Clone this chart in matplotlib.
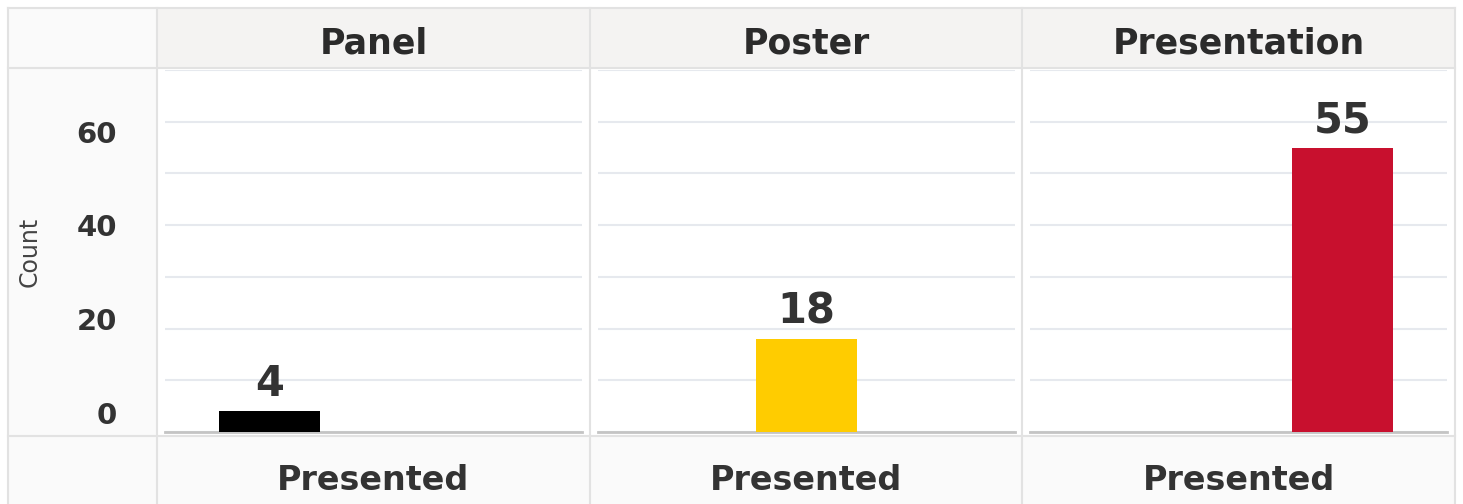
import matplotlib
matplotlib.use("Agg")
import matplotlib.pyplot as plt
from matplotlib.patches import Rectangle

# data
categories = ["Panel", "Poster", "Presentation"]
counts = [4, 18, 55]
colors = ["#000000", "#FFCC00", "#C8102E"]
row_label = "Presented"
y_ticks = [0, 20, 40, 60]

W, H = 1463, 504
fig = plt.figure(figsize=(W / 100, H / 100), dpi=100)

# background grid of cells, in pixel coords
bg = fig.add_axes([0, 0, 1, 1])
bg.set_xlim(0, W)
bg.set_ylim(H, 0)
bg.axis("off")

left, top, right = 8, 8, 1455
col_x = [157, 590, 1022, 1455]
head_bottom, strip_top = 68, 436
border = "#e2e2e2"

bg.add_patch(Rectangle((left, top), col_x[0] - left, H - top, color="#fafafa", lw=0))
bg.add_patch(Rectangle((col_x[0], top), right - col_x[0], head_bottom - top, color="#f4f3f2", lw=0))
bg.add_patch(Rectangle((col_x[0], strip_top), right - col_x[0], H - strip_top, color="#fafafa", lw=0))
for x in [left] + col_x:
    bg.plot([x, x], [top, H], color=border, lw=1.5)
for y in [top, head_bottom, strip_top]:
    bg.plot([left, right], [y, y], color=border, lw=1.5)

for i, cat in enumerate(categories):
    cx = (col_x[i] + col_x[i + 1]) / 2
    bg.text(cx, 54, cat, ha="center", va="baseline", fontsize=25,
            fontweight="bold", color="#2b2b2b", family="DejaVu Sans")
    bg.text(cx, 490, row_label, ha="center", va="baseline", fontsize=24,
            fontweight="bold", color="#333333", family="DejaVu Sans")

bg.text(30, 252, "Count", rotation=90, ha="center", va="center",
        fontsize=17, color="#444444", family="DejaVu Sans")

# facet panels
x_pos = list(range(len(categories)))
for i, cat in enumerate(categories):
    x0 = col_x[i] + 8
    ax = fig.add_axes([x0 / W, (H - 432) / H, 417 / W, 362 / H])
    ax.patch.set_alpha(0)
    ax.bar(x_pos[i], counts[i], width=0.97, color=colors[i], zorder=3)
    ax.annotate(str(counts[i]), (x_pos[i], counts[i]), xytext=(0, 11),
                textcoords="offset points", ha="center", va="baseline",
                fontsize=30, fontweight="bold", color="#333333",
                family="DejaVu Sans")
    ax.set_xlim(-1, 3)
    ax.set_ylim(0, 70)
    ax.set_yticks(range(0, 71, 10))
    ax.grid(axis="y", color="#e6e9ee", lw=1.5, zorder=0)
    ax.set_xticks([])
    for s in ["top", "left", "right"]:
        ax.spines[s].set_visible(False)
    ax.spines["bottom"].set_color("#c4c4c4")
    ax.spines["bottom"].set_linewidth(2)
    ax.tick_params(axis="y", length=0, labelleft=False)

# y tick labels sit in the left column, drawn a bit squeezed like the original
ax0 = fig.axes[1]
for v in y_ticks:
    ax0.annotate(str(v), (0, 3.7 + v * 0.905), xycoords=("axes fraction", "data"),
                 xytext=(-48 * 0.72, -2), textcoords="offset points",
                 ha="right", va="center", fontsize=21, fontweight="bold",
                 color="#333333", family="DejaVu Sans")

fig.savefig("out.png", dpi=100)
